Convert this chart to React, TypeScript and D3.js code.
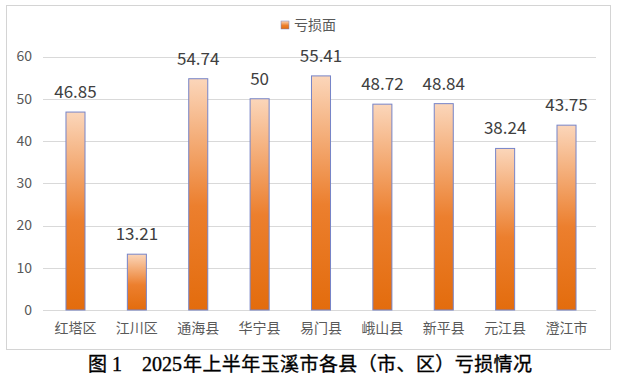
import React from "react";
import * as d3 from "d3";

const categories = ["红塔区", "江川区", "通海县", "华宁县", "易门县", "峨山县", "新平县", "元江县", "澄江市"];
const values = [46.85, 13.21, 54.74, 50, 55.41, 48.72, 48.84, 38.24, 43.75];
const yTicks = [0, 10, 20, 30, 40, 50, 60];
const seriesName = "亏损面";
const captionPrefix = "图";
const captionNum = "1";
const captionYear = "2025";
const captionRest = "年上半年玉溪市各县（市、区）亏损情况";

const W = 622;
const H = 383;
const FONT = "'Noto Sans CJK SC', 'Noto Sans', sans-serif";
const SERIF = "'Liberation Serif', 'DejaVu Serif', serif";

export default function App() {
  const x = d3.scaleBand<string>().domain(categories).range([44.3, 596.7]).paddingInner(0.69).paddingOuter(0.345);
  const y = d3.scaleLinear().domain([0, 60]).range([310, 56.5]);
  const bw = x.bandwidth();
  return (
    <svg width={W} height={H} style={{ position: "absolute", left: 0, top: 0, background: "#fff" }}>
      <defs>
        <linearGradient id="barGrad" x1="0" y1="0" x2="0" y2="1">
          <stop offset="0" stopColor="#fbd6ba" />
          <stop offset="0.55" stopColor="#ec7f2e" />
          <stop offset="1" stopColor="#e36c0d" />
        </linearGradient>
      </defs>
      <rect x={6.5} y={5.5} width={604} height={344} fill="#fff" stroke="#d4d4d4" strokeWidth={1} />
      {yTicks.map((t) => (
        <g key={t}>
          <line x1={43} x2={596} y1={Math.round(y(t)) + 0.5} y2={Math.round(y(t)) + 0.5} stroke="#d9d9d9" strokeWidth={1} />
          <text x={32} y={y(t)} dy="0.35em" textAnchor="end" fontFamily={FONT} fontSize={14} fill="#595959">
            {t}
          </text>
        </g>
      ))}
      {categories.map((c, i) => {
        const bx = x(c)!;
        const by = y(values[i]);
        return (
          <g key={c}>
            <rect x={bx + 0.5} y={by} width={bw} height={y(0) - by} fill="url(#barGrad)" stroke="#7684c8" strokeWidth={1} />
            <text x={bx + bw / 2 + 0.5} y={by - 14} textAnchor="middle" fontFamily={FONT} fontSize={17} fill="#404040">
              {values[i]}
            </text>
            <text x={bx + bw / 2 + 0.5} y={328} dy="0.35em" textAnchor="middle" fontFamily={FONT} fontSize={14} fill="#595959">
              {c}
            </text>
          </g>
        );
      })}
      <rect x={281} y={21} width={8} height={8} fill="url(#barGrad)" stroke="#7684c8" strokeWidth={0.5} />
      <text x={294} y={25} dy="0.35em" fontFamily={FONT} fontSize={14} fill="#595959">
        {seriesName}
      </text>
      <text y={364} dy="0.35em" fill="#000" stroke="#000" strokeWidth={0.35} fontSize={19}>
        <tspan x={88} fontFamily={FONT}>{captionPrefix}</tspan>
        <tspan x={112} fontFamily={SERIF} fontSize={20}>{captionNum}</tspan>
        <tspan x={142} fontFamily={SERIF} fontSize={20}>{captionYear}</tspan>
        <tspan x={183} fontFamily={FONT} textLength={349} lengthAdjust="spacing">{captionRest}</tspan>
      </text>
    </svg>
  );
}
